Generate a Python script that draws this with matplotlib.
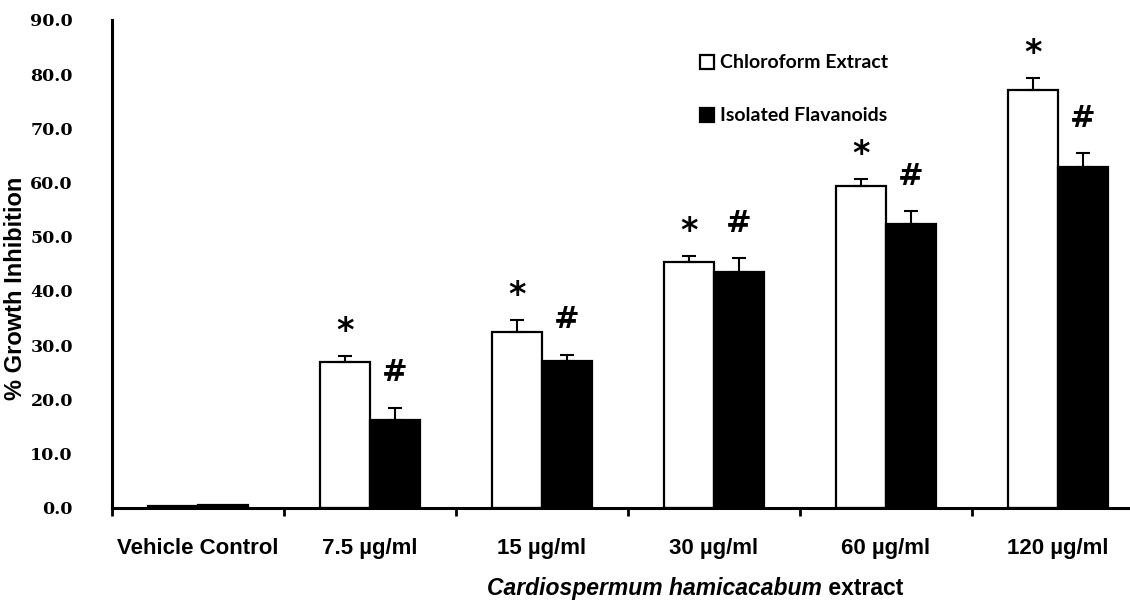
import numpy as np
import matplotlib.pyplot as plt

# Datos
categorias = ['Vehicle Control', '7.5 µg/ml', '15 µg/ml', '30 µg/ml', '60 µg/ml', '120 µg/ml']
cloroformo = [0.3, 26.8, 32.5, 45.4, 59.4, 77.1]
cloroformo_err = [0.0, 1.2, 2.1, 1.0, 1.3, 2.1]
flavonoides = [0.5, 16.2, 27.1, 43.5, 52.3, 62.9]
flavonoides_err = [0.0, 2.2, 1.1, 2.5, 2.4, 2.5]
marca_cloro = ['', '*', '*', '*', '*', '*']
marca_flav = ['', '#', '#', '#', '#', '#']

x = np.arange(len(categorias))
w = 0.29

fig = plt.figure(figsize=(11.3, 6.03), dpi=100)
ax = fig.add_axes([0.099, 0.158, 0.901, 0.809])

ax.bar(x - w / 2, cloroformo, w, color='white', edgecolor='black', linewidth=1.6,
       label='Chloroform Extract')
ax.bar(x + w / 2, flavonoides, w, color='black', edgecolor='black', linewidth=1.6,
       label='Isolated Flavanoids')

# barras de error solo hacia arriba
for xs, vals, errs in [(x - w / 2, cloroformo, cloroformo_err), (x + w / 2, flavonoides, flavonoides_err)]:
    for xi, v, e in zip(xs, vals, errs):
        if e > 0:
            ax.errorbar(xi, v, yerr=[[0], [e]], fmt='none', ecolor='black',
                        elinewidth=1.5, capsize=5, capthick=1.5)

# marcas de significancia
for xi, v, e, m in zip(x - w / 2, cloroformo, cloroformo_err, marca_cloro):
    if m:
        ax.text(xi, v + e + 1.5, m, ha='center', va='bottom', fontsize=24,
                fontweight='bold', family='DejaVu Sans')
for xi, v, e, m in zip(x + w / 2, flavonoides, flavonoides_err, marca_flav):
    if m:
        ax.text(xi, v + e + 3.8, m, ha='center', va='bottom', fontsize=22,
                fontweight='bold', family='DejaVu Sans')

ax.set_xlim(-0.5, 5.42)
ax.set_ylim(0, 90)
ax.set_yticks(np.arange(0, 91, 10))
ax.set_yticklabels(['{:.1f}'.format(v) for v in np.arange(0, 91, 10)],
                   family='DejaVu Serif', fontweight='bold', fontsize=12.5)
ax.tick_params(axis='y', length=0, pad=28)

ax.set_xticks(x)
ax.set_xticklabels(categorias, family='Liberation Sans', fontweight='bold', fontsize=16)
ax.set_xticks(np.arange(-0.5, 5.5, 1), minor=True)
ax.tick_params(axis='x', which='major', length=0, pad=22)
ax.tick_params(axis='x', which='minor', length=6, width=2, direction='out')

for s in ['top', 'right']:
    ax.spines[s].set_visible(False)
for s in ['left', 'bottom']:
    ax.spines[s].set_linewidth(2.2)

ax.set_ylabel('% Growth Inhibition', family='Liberation Sans', fontweight='bold',
              fontsize=17)
ax.yaxis.set_label_coords(-0.083, 0.45)

t1 = fig.text(0.431, 0.005, 'Cardiospermum hamicacabum', ha='left', va='bottom',
              family='Liberation Sans', fontweight='bold', fontstyle='italic',
              fontsize=16.5)
ax.annotate(' extract', xy=(1, 0), xycoords=t1, ha='left', va='bottom',
            family='Liberation Sans', fontweight='bold', fontsize=16.5,
            annotation_clip=False)

leg = ax.legend(loc='upper left', bbox_to_anchor=(0.56, 0.965), frameon=False,
                prop={'family': 'Lato', 'weight': 'bold', 'size': 14},
                handlelength=0.75, handleheight=0.75, handletextpad=0.3,
                labelspacing=1.85)

fig.savefig('out.png', dpi=100)
